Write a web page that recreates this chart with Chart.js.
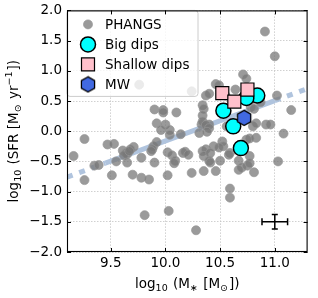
<!DOCTYPE html>
<html><head><meta charset="utf-8">
<script src="https://cdn.jsdelivr.net/npm/chart.js@4"></script>
<style>html,body{margin:0;padding:0;background:#fff;}canvas{display:block}</style>
</head><body>
<canvas id="c" width="318" height="298"></canvas>
<script>
// ---- data ----
const phangsX = [10.91,11.00,10.71,10.74,9.76,10.24,10.46,10.49,10.64,10.37,10.40,10.55,
 10.34,10.35,11.02,11.15,10.78,10.81,10.87,9.90,9.98,9.98,10.10,9.92,10.00,9.96,10.04,10.04,10.14,
 10.34,10.33,10.40,10.34,10.37,10.40,10.31,10.38,10.56,10.80,10.83,10.92,10.96,11.08,10.83,10.74,10.77,
 9.26,9.47,9.53,9.71,9.61,9.64,9.65,9.62,9.16,9.68,9.67,
 9.89,9.92,9.88,9.87,10.02,10.06,10.09,9.78,10.16,10.18,10.21,9.35,9.39,9.55,9.65,9.90,10.08,
 9.26,9.51,9.70,9.78,9.85,10.02,9.81,10.03,
 10.34,10.37,10.35,10.44,10.52,10.53,10.49,10.41,10.59,10.58,10.40,10.50,10.77,10.67,10.75,10.70,
 10.41,10.24,10.35,10.46,10.67,10.77,10.81,11.03,10.59,10.59,10.28];
const phangsY = [1.65,1.24,0.94,0.87,0.77,0.66,0.78,0.76,0.69,0.59,0.62,0.59,
 0.43,0.37,0.59,0.35,0.40,0.37,0.48,0.36,0.35,0.31,0.31,0.13,0.11,0.02,0.02,-0.06,-0.05,
 0.26,0.11,0.11,0.16,0.10,0.05,-0.03,-0.01,0.08,0.08,0.13,0.11,0.11,-0.04,-0.11,-0.14,-0.12,
 -0.13,-0.22,-0.21,-0.26,-0.32,-0.36,-0.38,-0.40,-0.41,-0.30,-0.33,
 -0.25,-0.18,-0.30,-0.33,-0.35,-0.40,-0.49,-0.44,-0.36,-0.34,-0.39,-0.57,-0.56,-0.50,-0.52,-0.52,-0.53,
 -0.81,-0.73,-0.72,-0.77,-0.80,-0.73,-1.39,-1.32,
 -0.33,-0.30,-0.41,-0.25,-0.17,-0.25,-0.27,-0.36,-0.36,-0.39,-0.49,-0.49,-0.41,-0.49,-0.57,-0.60,
 -0.52,-0.69,-0.66,-0.66,-0.64,-0.53,-0.68,-0.50,-0.95,-1.10,-1.64];
const bigX = [10.84, 10.74, 10.53, 10.62, 10.69];
const bigY = [0.59, 0.55, 0.34, 0.08, -0.28];
const shallowX = [10.52, 10.63, 10.75];
const shallowY = [0.63, 0.49, 0.69];
const mwX = [10.72];
const mwY = [0.22];
const trendX = [9.1, 9.45, 11.0, 11.3];
const trendY = [-0.76, -0.527, 0.505, 0.705];
const errX = [11.0], errY = [-1.5], errDX = [0.117], errDY = [0.12];
const xTicks = [9.5, 10.0, 10.5, 11.0];
const xTickLabels = ['9.5', '10.0', '10.5', '11.0'];
const yTicks = [-2, -1.5, -1, -0.5, 0, 0.5, 1, 1.5, 2];
const yTickLabels = ['\u22122.0', '\u22121.5', '\u22121.0', '\u22120.5', '0.0', '0.5', '1.0', '1.5', '2.0'];
const legendLabels = ['PHANGS', 'Big dips', 'Shallow dips', 'MW'];

// ---- helpers ----
const FONT = 'DejaVu Sans';
const pts = (xs, ys) => xs.map((v, i) => ({x: v, y: ys[i]}));
function hexPath(ctx, cx, cy, r) {
  ctx.beginPath();
  for (let k = 0; k < 6; k++) {
    const a = -Math.PI / 2 + k * Math.PI / 3;
    const px = cx + r * Math.cos(a), py = cy + r * Math.sin(a);
    k ? ctx.lineTo(px, py) : ctx.moveTo(px, py);
  }
  ctx.closePath();
}
const hexImg = document.createElement('canvas');
hexImg.width = 18; hexImg.height = 18;
(function () {
  const c = hexImg.getContext('2d');
  hexPath(c, 9, 9, 7.6);
  c.fillStyle = '#4169e1'; c.fill();
  c.lineWidth = 1.3; c.strokeStyle = '#000'; c.stroke();
})();

function drawRich(ctx, segs, cx, cy, rot) {
  ctx.save();
  ctx.translate(cx, cy);
  ctx.rotate(rot);
  ctx.fillStyle = '#000';
  ctx.textBaseline = 'alphabetic';
  ctx.textAlign = 'left';
  let w = 0;
  segs.forEach(s => {
    ctx.font = (s.k ? 9.5 : 13.5) + 'px "' + FONT + '"';
    s.w = ctx.measureText(s.t).width + (s.g || 0);
    w += s.w;
  });
  let p = -w / 2;
  segs.forEach(s => {
    ctx.font = (s.k ? 9.5 : 13.5) + 'px "' + FONT + '"';
    const dy = s.k === 'sub' ? 3.5 : (s.k === 'sup' ? -5.5 : 0);
    ctx.fillText(s.t, p, dy);
    p += s.w;
  });
  ctx.restore();
}

const custom = {
  id: 'custom',
  afterDatasetsDraw(chart) {
    const {ctx, scales: {x, y}, chartArea: ca} = chart;
    ctx.save();
    // error bar
    ctx.strokeStyle = '#000';
    ctx.lineWidth = 1.5;
    for (let i = 0; i < errX.length; i++) {
      const cx = x.getPixelForValue(errX[i]), cy = y.getPixelForValue(errY[i]);
      const x0 = x.getPixelForValue(errX[i] - errDX[i]), x1 = x.getPixelForValue(errX[i] + errDX[i]);
      const y0 = y.getPixelForValue(errY[i] - errDY[i]), y1 = y.getPixelForValue(errY[i] + errDY[i]);
      ctx.beginPath();
      ctx.moveTo(x0, cy); ctx.lineTo(x1, cy);
      ctx.moveTo(cx, y0); ctx.lineTo(cx, y1);
      ctx.moveTo(x0, cy - 3.5); ctx.lineTo(x0, cy + 3.5);
      ctx.moveTo(x1, cy - 3.5); ctx.lineTo(x1, cy + 3.5);
      ctx.moveTo(cx - 3, y0); ctx.lineTo(cx + 3, y0);
      ctx.moveTo(cx - 3, y1); ctx.lineTo(cx + 3, y1);
      ctx.stroke();
    }
    // legend box
    const lx = ca.left, ly = ca.top, lw = 131, lh = 86, r = 3;
    ctx.beginPath();
    ctx.moveTo(lx + r, ly); ctx.lineTo(lx + lw - r, ly); ctx.arcTo(lx + lw, ly, lx + lw, ly + r, r);
    ctx.lineTo(lx + lw, ly + lh - r); ctx.arcTo(lx + lw, ly + lh, lx + lw - r, ly + lh, r);
    ctx.lineTo(lx + r, ly + lh); ctx.arcTo(lx, ly + lh, lx, ly + lh - r, r);
    ctx.lineTo(lx, ly + r); ctx.arcTo(lx, ly, lx + r, ly, r);
    ctx.closePath();
    ctx.fillStyle = 'rgba(255,255,255,0.8)';
    ctx.fill();
    ctx.lineWidth = 1;
    ctx.strokeStyle = '#cccccc';
    ctx.stroke();
    const mx = lx + 21;
    const rows = [ly + 14, ly + 34, ly + 54, ly + 74];
    // PHANGS marker
    ctx.beginPath(); ctx.arc(mx, rows[0], 4.5, 0, Math.PI * 2);
    ctx.fillStyle = 'rgba(120,120,120,0.75)'; ctx.fill();
    ctx.lineWidth = 1; ctx.strokeStyle = 'rgba(150,150,150,0.7)'; ctx.stroke();
    // Big dips
    ctx.beginPath(); ctx.arc(mx, rows[1], 7.5, 0, Math.PI * 2);
    ctx.fillStyle = '#00ffff'; ctx.fill();
    ctx.lineWidth = 1.5; ctx.strokeStyle = '#000'; ctx.stroke();
    // Shallow
    ctx.beginPath(); ctx.rect(mx - 6.5, rows[2] - 6.5, 13, 13);
    ctx.fillStyle = '#ffc0cb'; ctx.fill();
    ctx.lineWidth = 1.2; ctx.strokeStyle = '#000'; ctx.stroke();
    // MW
    ctx.drawImage(hexImg, mx - 9, rows[3] - 9);
    ctx.fillStyle = '#000';
    ctx.font = '13.5px "' + FONT + '"';
    ctx.textBaseline = 'middle';
    ctx.textAlign = 'left';
    legendLabels.forEach((t, i) => ctx.fillText(t, lx + 38, rows[i] + 1));
    ctx.restore();
  },
  afterDraw(chart) {
    const {ctx, scales: {x, y}, chartArea: ca} = chart;
    ctx.save();
    ctx.strokeStyle = '#000';
    ctx.lineWidth = 1;
    ctx.beginPath();
    xTicks.forEach(v => {
      const p = Math.round(x.getPixelForValue(v)) + 0.5;
      ctx.moveTo(p, ca.bottom); ctx.lineTo(p, ca.bottom - 4);
      ctx.moveTo(p, ca.top); ctx.lineTo(p, ca.top + 4);
    });
    yTicks.forEach(v => {
      const p = Math.round(y.getPixelForValue(v)) + 0.5;
      ctx.moveTo(ca.left, p); ctx.lineTo(ca.left + 4, p);
      ctx.moveTo(ca.right, p); ctx.lineTo(ca.right - 4, p);
    });
    ctx.stroke();
    ctx.lineWidth = 1.1;
    ctx.strokeRect(ca.left + 0.5, ca.top + 0.5, ca.right - ca.left - 1, ca.bottom - ca.top - 1);
    // axis titles
    drawRich(ctx, [{t: 'log'}, {t: '10', k: 'sub', g: 1}, {t: ' (M'}, {t: '\u2217', k: 'sub', g: 1}, {t: ' [M'}, {t: '\u2299', k: 'sub', g: 1}, {t: '])'}],
      (ca.left + ca.right) / 2, 287.5, 0);
    drawRich(ctx, [{t: 'log'}, {t: '10', k: 'sub', g: 1}, {t: ' (SFR [M'}, {t: '\u2299', k: 'sub', g: 1}, {t: ' yr'}, {t: '\u22121', k: 'sup', g: 1}, {t: '])'}],
      17.5, (ca.top + ca.bottom) / 2, -Math.PI / 2);
    ctx.restore();
  }
};

const tickFont = {family: FONT, size: 13.5};
new Chart(document.getElementById('c'), {
  type: 'scatter',
  data: {
    datasets: [
      {label: 'MW', data: pts(mwX, mwY), pointStyle: hexImg, order: 1},
      {label: 'Shallow dips', data: pts(shallowX, shallowY), pointStyle: 'rect', pointRadius: 9.2,
        backgroundColor: '#ffc0cb', borderColor: '#000', borderWidth: 1.2, order: 2},
      {label: 'Big dips', data: pts(bigX, bigY), pointStyle: 'circle', pointRadius: 7.5,
        backgroundColor: '#00ffff', borderColor: '#000', borderWidth: 1.5, order: 3},
      {label: 'PHANGS', data: pts(phangsX, phangsY), pointStyle: 'circle', pointRadius: 4.5,
        backgroundColor: 'rgba(120,120,120,0.75)', borderColor: 'rgba(150,150,150,0.7)', borderWidth: 1, order: 4},
      {label: 'trend', data: pts(trendX, trendY), showLine: true, pointRadius: 0, borderWidth: 5,
        borderColor: '#b0c4de', borderCapStyle: 'butt', order: 5,
        segment: {borderDash: c => (c.p0DataIndex === 1 ? [] : [6, 7])}}
    ]
  },
  options: {
    responsive: false,
    animation: false,
    devicePixelRatio: 1,
    layout: {padding: {top: 6, right: 3, left: 0, bottom: 0}},
    plugins: {legend: {display: false}, tooltip: {enabled: false}},
    scales: {
      x: {
        type: 'linear', min: 9.1, max: 11.3,
        afterBuildTicks: s => { s.ticks = xTicks.map(v => ({value: v})); },
        ticks: {callback: v => xTickLabels[xTicks.indexOf(v)], font: tickFont, color: '#000', padding: 3,
          maxRotation: 0, autoSkip: false},
        grid: {color: '#c4c4c4', lineWidth: 0.8, drawTicks: false},
        border: {display: false, dash: [1.5, 1.5]},
        afterFit: s => { s.height = 46; s.paddingLeft = 0; s.paddingRight = 0; s.paddingTop = 0; s.paddingBottom = 0; }
      },
      y: {
        type: 'linear', min: -2, max: 2,
        afterBuildTicks: s => { s.ticks = yTicks.map(v => ({value: v})); },
        ticks: {callback: v => yTickLabels[yTicks.indexOf(v)], font: tickFont, color: '#000', padding: 5, autoSkip: false},
        grid: {color: '#c4c4c4', lineWidth: 0.8, drawTicks: false},
        border: {display: false, dash: [1.5, 1.5]},
        afterFit: s => { s.width = 67; s.paddingLeft = 0; s.paddingRight = 0; s.paddingTop = 0; s.paddingBottom = 0; }
      }
    }
  },
  plugins: [custom]
});
</script>
</body></html>
